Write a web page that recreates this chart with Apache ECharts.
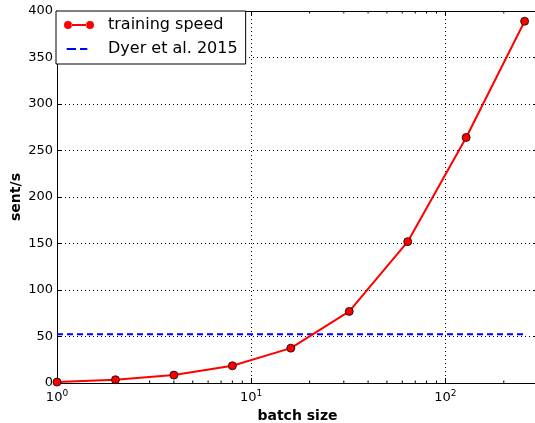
<!DOCTYPE html>
<html>
<head>
<meta charset="utf-8">
<script src="https://cdn.jsdelivr.net/npm/echarts@6/dist/echarts.min.js"></script>
<style>
html,body{margin:0;padding:0;background:#fff;}
#chart{width:535px;height:423px;}
</style>
</head>
<body>
<div id="chart"></div>
<script>
const batchSizes = [1, 2, 4, 8, 16, 32, 64, 128, 256];
const speeds = [1, 3.5, 8.5, 18.5, 37.5, 77, 152, 264, 389];
const dyerX = [1, 256];
const dyerValue = 52.5;
const minorTicks = [2,3,4,5,6,7,8,9,20,30,40,50,60,70,80,90,200,300];
const xMin = 1, xMax = 300;
const yMin = 0, yMax = 400, yStep = 50;

const FONT = 'DejaVu Sans';
const chart = echarts.init(document.getElementById('chart'), null, {renderer: 'canvas'});

function powLabel(v) {
  const e = Math.round(Math.log10(v));
  if (Math.abs(Math.pow(10, e) - v) > 1e-6) return '';
  return '10{s|' + e + '}';
}

const option = {
  animation: false,
  backgroundColor: '#fff',
  textStyle: {fontFamily: FONT},
  grid: {left: 57, top: 11, width: 481, height: 372, containLabel: false, outerBoundsMode: 'none'},
  legend: {
    left: 56, top: 11,
    orient: 'vertical',
    backgroundColor: '#fff',
    borderColor: '#000', borderWidth: 1, borderRadius: 0,
    padding: [6, 8, 7, 8],
    itemGap: 8,
    itemWidth: 30, itemHeight: 8,
    z: 10,
    textStyle: {fontFamily: FONT, fontSize: 16, color: '#000', lineHeight: 16, padding: [0, 0, 0, 9]},
    data: [
      {name: 'training speed',
       icon: 'path://M0,0M30,8M0,4a4,4 0 1,0 8,0a4,4 0 1,0 -8,0Z M22,4a4,4 0 1,0 8,0a4,4 0 1,0 -8,0Z M7.5,3H22.5V5H7.5Z',
       itemStyle: {color: '#ff0000', borderWidth: 0}},
      {name: 'Dyer et al. 2015',
       icon: 'path://M0,0M30,8M2.7,3H12V5H2.7Z M16,3H23.3V5H16Z',
       itemStyle: {color: '#0000ff', borderWidth: 0}}
    ]
  },
  xAxis: [
    {
      type: 'log', logBase: 10, min: xMin, max: xMax,
      position: 'bottom',
      name: 'batch size', nameLocation: 'middle', nameGap: 25,
      nameTextStyle: {fontFamily: FONT, fontSize: 14, fontWeight: 'bold', color: '#000'},
      axisLine: {show: true, onZero: false, lineStyle: {color: '#000', width: 1}},
      axisTick: {show: true, inside: true, length: 5, lineStyle: {color: '#000'}},
      axisLabel: {
        show: true, margin: 6, color: '#000', fontFamily: FONT, fontSize: 13,
        showMinLabel: true, showMaxLabel: false,
        formatter: powLabel,
        rich: {s: {fontSize: 9, fontFamily: FONT, color: '#000', padding: [0, 0, 8, 0]}}
      },
      splitLine: {show: true, lineStyle: {color: '#000', type: [1, 3], width: 1}},
      minorTick: {show: false}
    },
    {
      type: 'log', logBase: 10, min: xMin, max: xMax,
      position: 'top',
      axisLine: {show: true, onZero: false, lineStyle: {color: '#000', width: 1}},
      axisTick: {show: true, inside: true, length: 5, lineStyle: {color: '#000'}},
      axisLabel: {show: false},
      splitLine: {show: false}
    }
  ],
  yAxis: [
    {
      type: 'value', min: yMin, max: yMax, interval: yStep,
      position: 'left',
      name: 'sent/s', nameLocation: 'middle', nameGap: 34, nameMoveOverlap: false,
      nameTextStyle: {fontFamily: FONT, fontSize: 14, fontWeight: 'bold', color: '#000'},
      axisLine: {show: true, onZero: false, lineStyle: {color: '#000', width: 1}},
      axisTick: {show: true, inside: true, length: 5, lineStyle: {color: '#000'}},
      axisLabel: {show: true, margin: 4, color: '#000', fontFamily: FONT, fontSize: 13},
      splitLine: {show: true, lineStyle: {color: '#000', type: [1, 3], width: 1}}
    },
    {
      type: 'value', min: yMin, max: yMax, interval: yStep,
      position: 'right',
      axisLine: {show: true, onZero: false, lineStyle: {color: '#000', width: 1}},
      axisTick: {show: true, inside: true, length: 5, lineStyle: {color: '#000'}},
      axisLabel: {show: false},
      splitLine: {show: false}
    }
  ],
  series: [
    {
      name: 'minor ticks',
      type: 'custom',
      xAxisIndex: 0, yAxisIndex: 0,
      silent: true,
      data: minorTicks.map(v => [v]),
      renderItem: function (params, api) {
        const v = api.value(0);
        const b = api.coord([v, yMin]);
        const t = api.coord([v, yMax]);
        return {
          type: 'group',
          children: [
            {type: 'line', shape: {x1: b[0], y1: b[1], x2: b[0], y2: b[1] - 2.5}, style: {stroke: '#000', lineWidth: 1}},
            {type: 'line', shape: {x1: t[0], y1: t[1], x2: t[0], y2: t[1] + 2.5}, style: {stroke: '#000', lineWidth: 1}}
          ]
        };
      },
      z: 5
    },
    {
      name: 'Dyer et al. 2015',
      type: 'line',
      data: dyerX.map(x => [x, dyerValue]),
      symbol: 'none',
      itemStyle: {color: '#0000ff'},
      lineStyle: {color: '#0000ff', width: 2, type: [6, 4]},
      z: 3
    },
    {
      name: 'training speed',
      type: 'line',
      data: batchSizes.map((b, i) => [b, speeds[i]]),
      symbol: 'circle',
      symbolSize: 8,
      itemStyle: {color: '#ff0000', borderColor: '#000', borderWidth: 0.8},
      lineStyle: {color: '#ff0000', width: 2},
      z: 4
    }
  ]
};
chart.setOption(option);
</script>
</body>
</html>
